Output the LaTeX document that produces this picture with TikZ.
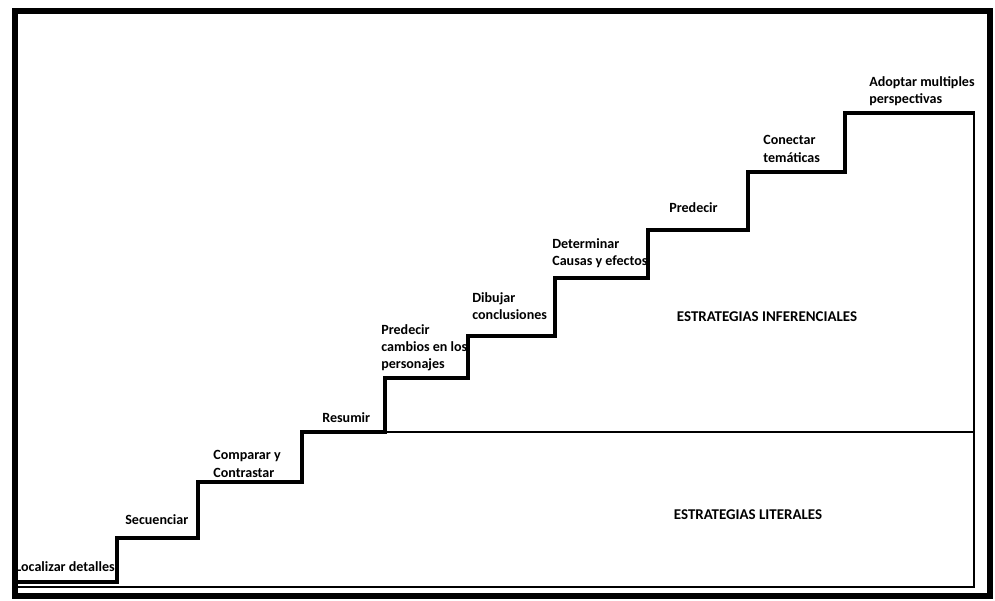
\documentclass[tikz,border=0pt]{standalone}
\usepackage{fontspec}
\setmainfont{Carlito}
\usetikzlibrary{positioning}

\begin{document}
\begin{tikzpicture}[
    x=0.02cm, y=-0.02cm,
    stair/.style={line width=2.8pt, line join=miter},
    frame/.style={line width=3.4pt},
    divider/.style={line width=1pt},
    steplabel/.style={anchor=west, inner sep=0pt, align=left, font=\fontsize{8}{9.8}\selectfont\bfseries},
    heading/.style={inner sep=0pt, font=\fontsize{8.5}{10}\selectfont\bfseries}
]
\useasboundingbox (0,0) rectangle (995,601);

% textos de cada peldano
\node[steplabel, anchor=east] (localizar) at (115,567) {Localizar detalles};
\node[steplabel] (secuenciar) at (125,520) {Secuenciar};
\node[steplabel] (comparar) at (213,464) {Comparar y\\Contrastar};
\node[steplabel] (resumir) at (322,418) {Resumir};
\node[steplabel] (cambios) at (381,348) {Predecir\\cambios en los\\personajes};
\node[steplabel] (dibujar) at (472,306) {Dibujar\\conclusiones};
\node[steplabel] (causas) at (552,253) {Determinar\\Causas y efectos};
\node[steplabel] (predecir) at (669,208) {Predecir};
\node[steplabel] (conectar) at (763,149) {Conectar\\temáticas};
\node[steplabel] (adoptar) at (869,91) {Adoptar multiples\\perspectivas};

\node[heading] (inferenciales) at (767,317) {ESTRATEGIAS INFERENCIALES};
\node[heading] (literales) at (748,515) {ESTRATEGIAS LITERALES};

% escalera
\draw[stair] (18,582) -| (117,538) -| (198,482) -| (302,432) -| (385,378)
    -| (468,336) -| (555,278) -| (648,230) -| (748,172) -| (845,113) -- (975,113);

% zonas
\draw[divider] (385,432) -- (974,432);
\draw[divider] (18,587) -- (974,587) -- (974,113);

% marco
\draw[frame] (15,11) rectangle (990,596);

\end{tikzpicture}
\end{document}
